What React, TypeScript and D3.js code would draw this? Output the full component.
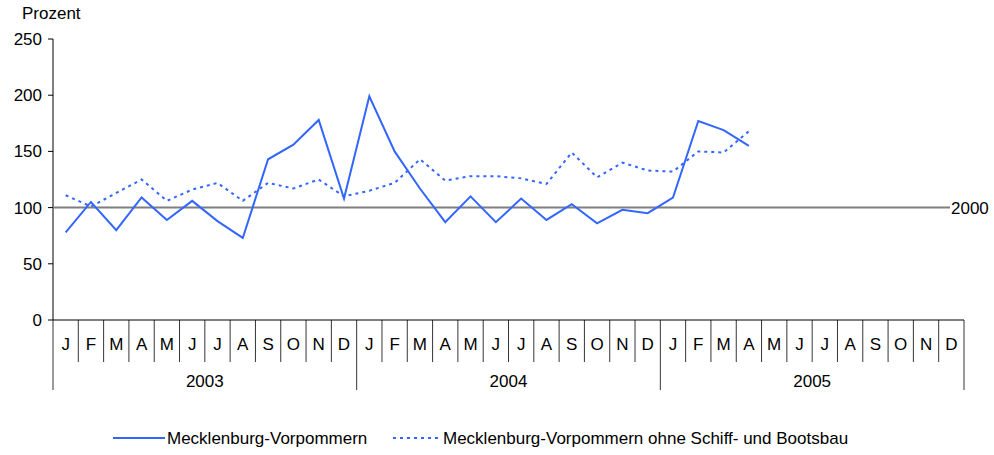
import React from "react";
import * as d3 from "d3";

const months = ["J","F","M","A","M","J","J","A","S","O","N","D"];
const years = ["2003","2004","2005"];
const yTicks = [0, 50, 100, 150, 200, 250];
const mvValues = [78,105,80,109,89,106,88,73,143,156,178,108, 199,150,117,87,110,87,108,89,103,86,98,95, 109,177,169,155];
const mvOhneValues = [111,101,113,125,106,116,122,106,122,117,125,110, 115,122,143,124,128,128,126,121,149,127,140,133, 132,150,149,168];
const seriesNames = ["Mecklenburg-Vorpommern","Mecklenburg-Vorpommern ohne Schiff- und Bootsbau"];
const baseValue = 100;
const baseLabel = "2000";

const W = 994, H = 455;
const left = 53, right = 964, top = 39, bottom = 320;
const blue = "#3366ff";
const font = "'Liberation Sans', Arial, sans-serif";
const fs = 17;

export default function App() {
  const n = years.length * months.length;
  const x = d3.scaleLinear().domain([0, n]).range([left, right]);
  const y = d3.scaleLinear().domain([0, 250]).range([bottom, top]);
  const cx = (i: number) => x(i + 0.5);
  const line = d3.line<number>().x((_, i) => cx(i)).y(d => y(d));
  const slots = d3.range(n);
  return (
    <svg width={W} height={H} style={{ position: "absolute", left: 0, top: 0 }} fontFamily={font}>
      <rect width={W} height={H} fill="#fff" />
      <text x={22} y={19} fontSize={fs} fill="#000">Prozent</text>
      {yTicks.map(t => (
        <g key={t}>
          <line x1={left - 5} x2={left} y1={y(t)} y2={y(t)} stroke="#000" />
          <text x={42} y={y(t)} dy="0.35em" textAnchor="end" fontSize={fs}>{t}</text>
        </g>
      ))}
      <line x1={left} x2={left} y1={top} y2={bottom} stroke="#000" />
      <line x1={left} x2={right} y1={bottom} y2={bottom} stroke="#000" />
      {d3.range(n + 1).map(i => {
        const isYear = i % 12 === 0;
        return <line key={"s" + i} x1={x(i)} x2={x(i)} y1={bottom} y2={isYear ? 390 : 362} stroke="#000" strokeWidth={0.8} />;
      })}
      {slots.map(i => (
        <text key={"m" + i} x={cx(i)} y={344} dy="0.35em" textAnchor="middle" fontSize={fs}>{months[i % 12]}</text>
      ))}
      {years.map((yr, k) => (
        <text key={yr} x={x(k * 12 + 6)} y={381} dy="0.35em" textAnchor="middle" fontSize={fs}>{yr}</text>
      ))}
      <line x1={left} x2={950} y1={y(baseValue)} y2={y(baseValue)} stroke="#7f7f7f" strokeWidth={2} />
      <text x={951} y={y(baseValue)} dy="0.35em" fontSize={fs}>{baseLabel}</text>
      <path d={line(mvOhneValues) || ""} fill="none" stroke={blue} strokeWidth={2} strokeDasharray="3,4" />
      <path d={line(mvValues) || ""} fill="none" stroke={blue} strokeWidth={2} />
      <line x1={113} x2={165} y1={438} y2={438} stroke={blue} strokeWidth={2} />
      <text x={167} y={438} dy="0.35em" fontSize={fs}>{seriesNames[0]}</text>
      <line x1={393} x2={441} y1={438} y2={438} stroke={blue} strokeWidth={2} strokeDasharray="3,4" />
      <text x={443} y={438} dy="0.35em" fontSize={fs}>{seriesNames[1]}</text>
    </svg>
  );
}
